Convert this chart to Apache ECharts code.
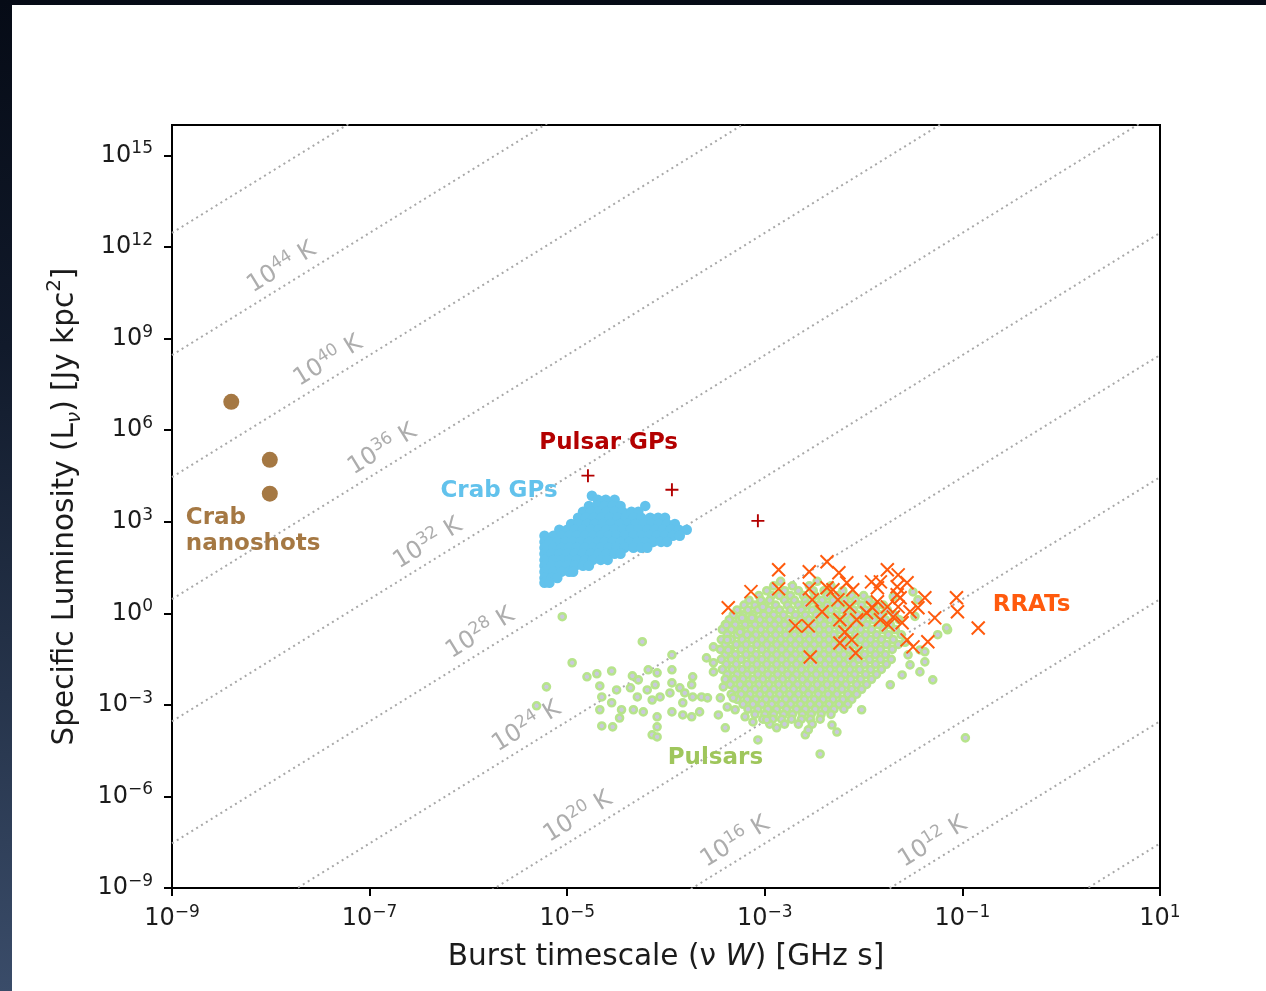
<!DOCTYPE html>
<html>
<head>
<meta charset="utf-8">
<title>Burst timescale vs specific luminosity</title>
<script src="https://cdn.jsdelivr.net/npm/echarts@6.0.0/dist/echarts.min.js"></script>
<style>
  html, body { margin: 0; padding: 0; width: 1266px; height: 991px; overflow: hidden;
    background: linear-gradient(180deg, #060b16 0%, #111a2b 35%, #26344b 70%, #3a4c69 100%); }
  #sheet { position: absolute; left: 12px; top: 5px; width: 1254px; height: 986px; background: #fff; }
  #chart { width: 1254px; height: 986px; }
</style>
</head>
<body>
<div id="sheet"><div id="chart"></div></div>
<script>
// All values are log10: W = burst timescale (nu W) in GHz s, L = specific luminosity in Jy kpc^2.

// Tick positions (decades)
const xTickExp = [-9, -7, -5, -3, -1, 1];
const yTickExp = [-9, -6, -3, 0, 3, 6, 9, 12, 15];

// Brightness-temperature guide lines (log10 T in K)
const tempLineExp = [8, 12, 16, 20, 24, 28, 32, 36, 40, 44, 48];
const tempLabelExp = [44, 40, 36, 32, 28, 24, 20, 16, 12];

// Crab nanoshots
const nanoLogW = [-8.40, -8.01, -8.01];
const nanoLogL = [6.93, 5.03, 3.92];

// Pulsar giant pulses
const gpLogW = [-4.79, -3.94, -3.07];
const gpLogL = [4.51, 4.05, 3.03];

// RRATs
const rratLogW = [-3.37, -3.14, -2.86, -2.86, -2.55, -2.55, -2.37, -2.52, -2.37, -2.25, -2.31, -2.17, -2.11, -2.14,
  -2.26, -2.42, -2.69, -2.56, -2.24, -2.07, -2.19, -2.24, -2.12, -2.08, -2.54, -1.76, -1.83, -1.65, -1.86, -1.66,
  -1.56, -1.66, -1.86, -1.91, -1.76, -1.65, -1.83, -1.70, -1.61, -1.53, -1.45, -1.38, -1.28, -1.06, -1.05, -0.84,
  -1.56, -1.50, -1.35, -1.97, -1.75, -1.63, -1.92];
const rratLogL = [0.18, 0.71, 1.43, 0.80, 1.36, 0.80, 1.69, 0.44, 0.84, 1.33, 0.77, 1.00, 0.77, 0.21,
  0.44, 0.05, -0.41, -0.41, -0.21, -0.21, -0.61, -0.97, -0.87, -1.30, -1.43, 1.43, 1.03, 1.26, 0.84, 0.87,
  1.00, 0.61, 0.38, 0.18, 0.21, 0.21, -0.21, -0.12, -0.31, 0.05, 0.18, 0.51, -0.15, 0.51, 0.05, -0.48,
  -0.87, -1.10, -0.93, 0.02, -0.38, 0.51, 1.03];

// Crab giant pulses, listed as [log L, [log W ...]] rows
const crabGpRows = [
  [3.85, [-4.75]],
  [3.72, [-4.69, -4.61, -4.52]],
  [3.52, [-4.78, -4.70, -4.62, -4.54, -4.46, -4.21]],
  [3.33, [-4.84, -4.76, -4.68, -4.60, -4.52, -4.44, -4.35, -4.28]],
  [3.13, [-4.89, -4.81, -4.73, -4.65, -4.57, -4.49, -4.41, -4.33, -4.25, -4.16, -4.08, -4.01]],
  [2.93, [-4.96, -4.88, -4.80, -4.72, -4.64, -4.56, -4.47, -4.39, -4.31, -4.23, -4.15, -4.07, -3.99, -3.91]],
  [2.74, [-5.08, -5.00, -4.92, -4.84, -4.76, -4.68, -4.60, -4.52, -4.44, -4.36, -4.28, -4.19, -4.11, -4.03, -3.95, -3.87, -3.79]],
  [2.54, [-5.23, -5.14, -5.06, -4.98, -4.90, -4.82, -4.74, -4.66, -4.58, -4.50, -4.42, -4.33, -4.25, -4.17, -4.09, -4.01, -3.93, -3.86]],
  [2.34, [-5.23, -5.18, -5.10, -5.02, -4.94, -4.86, -4.78, -4.70, -4.62, -4.54, -4.46, -4.37, -4.29, -4.21, -4.13, -4.05, -3.99]],
  [2.15, [-5.23, -5.14, -5.06, -4.98, -4.90, -4.82, -4.74, -4.66, -4.58, -4.50, -4.42, -4.33, -4.25, -4.19]],
  [1.95, [-5.23, -5.16, -5.08, -5.00, -4.92, -4.84, -4.76, -4.68, -4.60, -4.52, -4.46]],
  [1.75, [-5.23, -5.14, -5.06, -4.98, -4.90, -4.82, -4.74, -4.66, -4.59]],
  [1.56, [-5.23, -5.16, -5.08, -5.00, -4.92, -4.84, -4.78]],
  [1.36, [-5.23, -5.14, -5.06, -4.98, -4.94]],
  [1.16, [-5.23, -5.16, -5.10]],
  [1.00, [-5.23, -5.18]]
];

// Pulsars: the dense population as [log L, [log W ...]] rows ...
const pulsarCoreRows = [
  [1.05, [-2.84, -2.47]],
  [0.90, [-2.91, -2.72, -2.55, -2.33]],
  [0.74, [-2.98, -2.80, -2.66, -2.51, -2.40, -2.21]],
  [0.58, [-3.06, -2.93, -2.85, -2.74, -2.61, -2.49, -2.37, -2.26, -2.12, -2.00]],
  [0.43, [-3.16, -3.04, -2.95, -2.80, -2.70, -2.59, -2.53, -2.42, -2.31, -2.19, -2.08, -1.95]],
  [0.27, [-3.21, -3.10, -3.00, -2.89, -2.77, -2.66, -2.58, -2.46, -2.37, -2.26, -2.14, -2.02, -1.90, -1.80]],
  [0.11, [-3.28, -3.17, -3.07, -2.96, -2.85, -2.74, -2.63, -2.52, -2.43, -2.33, -2.21, -2.10, -1.98, -1.88, -1.76]],
  [-0.05, [-3.32, -3.22, -3.12, -3.01, -2.91, -2.81, -2.69, -2.59, -2.48, -2.39, -2.28, -2.17, -2.06, -1.94, -1.83, -1.69]],
  [-0.21, [-3.36, -3.26, -3.15, -3.05, -2.95, -2.86, -2.76, -2.64, -2.55, -2.44, -2.34, -2.23, -2.13, -2.01, -1.90, -1.78, -1.64]],
  [-0.37, [-3.40, -3.30, -3.20, -3.10, -3.00, -2.90, -2.80, -2.71, -2.60, -2.50, -2.40, -2.29, -2.18, -2.08, -1.97, -1.85, -1.73]],
  [-0.53, [-3.43, -3.34, -3.24, -3.14, -3.04, -2.94, -2.85, -2.75, -2.65, -2.55, -2.45, -2.35, -2.24, -2.13, -2.03, -1.92, -1.80, -1.68]],
  [-0.70, [-3.38, -3.28, -3.18, -3.09, -2.99, -2.89, -2.79, -2.70, -2.60, -2.50, -2.40, -2.30, -2.19, -2.08, -1.98, -1.87, -1.75, -1.62]],
  [-0.86, [-3.44, -3.34, -3.23, -3.13, -3.03, -2.94, -2.84, -2.74, -2.65, -2.55, -2.45, -2.35, -2.25, -2.14, -2.03, -1.93, -1.82, -1.70]],
  [-1.02, [-3.40, -3.29, -3.19, -3.08, -2.98, -2.88, -2.79, -2.69, -2.59, -2.50, -2.40, -2.30, -2.20, -2.09, -1.98, -1.88, -1.77, -1.65]],
  [-1.18, [-3.45, -3.35, -3.24, -3.14, -3.03, -2.93, -2.83, -2.74, -2.64, -2.54, -2.45, -2.35, -2.25, -2.15, -2.04, -1.93, -1.83, -1.71]],
  [-1.35, [-3.40, -3.30, -3.19, -3.09, -2.98, -2.88, -2.78, -2.69, -2.59, -2.49, -2.40, -2.30, -2.20, -2.10, -1.99, -1.88, -1.78]],
  [-1.51, [-3.44, -3.34, -3.24, -3.13, -3.03, -2.93, -2.83, -2.73, -2.64, -2.54, -2.44, -2.35, -2.25, -2.15, -2.05, -1.94, -1.83, -1.72]],
  [-1.67, [-3.39, -3.29, -3.18, -3.08, -2.98, -2.88, -2.78, -2.68, -2.59, -2.49, -2.39, -2.29, -2.20, -2.10, -1.99, -1.88, -1.77]],
  [-1.84, [-3.43, -3.33, -3.23, -3.13, -3.03, -2.93, -2.83, -2.73, -2.63, -2.53, -2.44, -2.34, -2.24, -2.14, -2.04, -1.93, -1.82]],
  [-2.00, [-3.38, -3.28, -3.18, -3.07, -2.97, -2.87, -2.77, -2.68, -2.58, -2.48, -2.38, -2.29, -2.19, -2.09, -1.98, -1.87]],
  [-2.16, [-3.40, -3.31, -3.22, -3.12, -3.02, -2.92, -2.82, -2.72, -2.62, -2.53, -2.43, -2.33, -2.23, -2.13, -2.03, -1.92]],
  [-2.33, [-3.35, -3.25, -3.16, -3.06, -2.96, -2.86, -2.76, -2.67, -2.57, -2.47, -2.37, -2.27, -2.18, -2.07, -1.97]],
  [-2.49, [-3.30, -3.20, -3.10, -3.00, -2.91, -2.81, -2.71, -2.61, -2.52, -2.42, -2.32, -2.22, -2.12, -2.02]],
  [-2.65, [-3.34, -3.24, -3.15, -3.05, -2.95, -2.85, -2.75, -2.66, -2.56, -2.46, -2.36, -2.27, -2.16, -2.07]],
  [-2.82, [-3.28, -3.18, -3.09, -2.99, -2.89, -2.79, -2.70, -2.60, -2.50, -2.41, -2.31, -2.21, -2.12]],
  [-2.98, [-3.22, -3.12, -3.03, -2.93, -2.83, -2.74, -2.64, -2.54, -2.45, -2.35, -2.25, -2.16]],
  [-3.14, [-3.17, -3.07, -2.97, -2.88, -2.78, -2.68, -2.59, -2.49, -2.39, -2.30, -2.20]],
  [-3.31, [-3.10, -3.00, -2.91, -2.81, -2.72, -2.62, -2.53, -2.43, -2.33]],
  [-3.47, [-3.02, -2.92, -2.83, -2.73, -2.63, -2.54, -2.44]],
  [-3.63, [-2.95, -2.80, -2.66, -2.52]]
];
// ... and the scattered ones around it
const pulsarLogW = [-5.05, -4.24, -4.95, -5.21, -5.31, -4.80, -4.70, -4.55, -4.67, -4.65, -4.67, -4.65, -4.54, -4.50,
  -4.55, -4.45, -4.47, -4.34, -4.28, -4.36, -4.29, -4.33, -4.23, -4.18, -4.09, -4.19, -4.11, -4.14, -4.06, -4.09,
  -4.09, -4.14, -4.09, -3.94, -3.94, -3.94, -3.96, -3.94, -3.86, -3.81, -3.73, -3.74, -3.83, -3.83, -3.74, -3.66,
  -3.73, -3.64, -3.58, -3.59, -3.52, -3.52, -3.52, -3.38, -3.37, -3.39, -3.25, -3.42, -3.45, -3.47, -3.40, -3.32,
  -3.38, -3.30, -3.20, -3.12, -2.98, -2.88, -3.07, -2.59, -2.56, -2.32, -2.27, -2.44, -2.02, -1.73, -1.61, -1.43,
  -1.38, -1.30, -1.15, -0.97, -1.43, -1.53, -1.55, -1.45, -1.16, -1.25, -1.38, -3.02, -3.23, -3.13, -1.48, -1.58,
  -1.50, -1.70];
const pulsarLogL = [-0.11, -0.93, -1.62, -2.41, -3.03, -2.08, -1.98, -1.89, -2.38, -2.74, -3.16, -3.69, -3.72, -2.51,
  -2.93, -3.16, -3.43, -2.05, -2.18, -2.44, -2.74, -3.16, -3.23, -1.85, -1.95, -2.51, -2.34, -2.84, -2.74, -3.39,
  -3.72, -3.98, -4.05, -1.36, -1.85, -2.28, -2.61, -3.23, -2.44, -2.61, -2.08, -2.34, -2.93, -3.33, -3.39, -3.23,
  -2.74, -2.74, -2.77, -1.46, -1.10, -1.62, -1.92, -0.87, -1.20, -0.38, -0.61, -2.41, -2.77, -3.33, -3.75, -2.77,
  -3.07, -3.16, -3.39, -3.56, -3.49, -3.75, -4.15, -3.98, -3.82, -3.66, -3.89, -4.61, -3.16, -2.34, -2.02, -1.92,
  -1.59, -2.18, -0.54, -4.08, -1.20, -1.69, -1.36, 0.44, -0.48, -0.70, -1.26, 0.21, -0.15, -0.15, -0.10, -0.95,
  0.70, 0.55];

// ---------------------------------------------------------------------------
const FONT = '"DejaVu Sans", "Liberation Sans", sans-serif';
const INK = '#1b1b1b';
const GRID = { left: 160, top: 120, width: 988, height: 763 };
const X_MIN = -9, X_MAX = 1, Y_MIN = -9, Y_MAX = 16;

// log10[(Jy kpc^2) / (2 k_B (GHz s)^2)] : T_B = L / (nu W)^2 times this factor
const LOG_TB_FACTOR = 17.5376;
const lineLogL = (logT, logW) => logT - LOG_TB_FACTOR + 2 * logW;

// where (in log W) each temperature label sits on its line
const tempLabelLogW = [-7.81, -7.34, -6.79, -6.33, -5.80, -5.33, -4.81, -3.22, -1.22];

// slope of the guide lines on screen, in degrees
const pxPerDecX = GRID.width / (X_MAX - X_MIN);
const pxPerDecY = GRID.height / (Y_MAX - Y_MIN);
const lineAngle = Math.atan(2 * pxPerDecY / pxPerDecX) * 180 / Math.PI;

const expText = n => (n < 0 ? '\u2212' + (-n) : String(n));
const powRich = (size, color) => ({
  b: { fontFamily: FONT, fontSize: size, lineHeight: Math.round(size * 1.25), color: color },
  s: { fontFamily: FONT, fontSize: Math.round(size * 0.7), lineHeight: Math.round(size * 0.7), verticalAlign: 'top', color: color }
});

const rowsToPoints = rows => {
  const pts = [];
  rows.forEach(([l, ws]) => ws.forEach(w => pts.push([w, l])));
  return pts;
};
const zipPoints = (ws, ls) => ws.map((w, i) => [w, ls[i]]);

const crabGpData = rowsToPoints(crabGpRows);
const pulsarData = rowsToPoints(pulsarCoreRows).concat(zipPoints(pulsarLogW, pulsarLogL));

const tempLineSeries = tempLineExp.map(t => ({
  type: 'line',
  silent: true,
  z: 1,
  symbol: 'none',
  clip: true,
  data: [[X_MIN, lineLogL(t, X_MIN)], [X_MAX, lineLogL(t, X_MAX)]],
  lineStyle: { color: '#a8a8a8', width: 2, type: [2, 3.7], cap: 'butt' }
}));

const tempLabelSeries = {
  type: 'scatter',
  silent: true,
  z: 2,
  symbolSize: 0,
  itemStyle: { color: 'transparent', opacity: 1 },
  data: tempLabelExp.map((t, i) => [tempLabelLogW[i], lineLogL(t, tempLabelLogW[i]), t]),
  label: {
    show: true,
    position: 'top',
    distance: 2,
    rotate: lineAngle,
    formatter: p => `{b|10}{s|${p.value[2]}}{b| K}`,
    rich: powRich(24, '#adadad')
  }
};

const notes = [
  { text: 'Pulsar GPs', color: '#b30000', at: [-4.58, 5.59], align: 'center' },
  { text: 'Crab GPs', color: '#62c2ec', at: [-5.69, 4.02], align: 'center' },
  { text: 'Crab\nnanoshots', color: '#a57843', at: [-8.86, 2.70], align: 'left' },
  { text: 'RRATs', color: '#ff5a0d', at: [-0.30, 0.28], align: 'center' },
  { text: 'Pulsars', color: '#9fc65c', at: [-3.50, -4.74], align: 'center' }
];

const chart = echarts.init(document.getElementById('chart'), null, { renderer: 'canvas' });

chart.setOption({
  animation: false,
  backgroundColor: '#ffffff',
  grid: Object.assign({ show: true, borderColor: '#000', borderWidth: 2, backgroundColor: 'transparent' }, GRID),
  xAxis: {
    type: 'value',
    min: X_MIN, max: X_MAX, interval: 2,
    axisLine: { show: true, onZero: false, lineStyle: { color: '#000', width: 2 } },
    axisTick: { show: true, length: 8, customValues: xTickExp, lineStyle: { color: '#000', width: 2 } },
    splitLine: { show: false },
    axisLabel: {
      customValues: xTickExp,
      margin: 16,
      formatter: v => `{b|10}{s|${expText(v)}}`,
      rich: powRich(24, INK)
    },
    name: 'Burst timescale (\u03bd {i|W}) [GHz s]',
    nameLocation: 'middle',
    nameGap: 54,
    nameTextStyle: {
      fontFamily: FONT, fontSize: 29.6, color: INK, verticalAlign: 'top',
      rich: { i: { fontFamily: FONT, fontSize: 29.6, fontStyle: 'italic', color: INK } }
    }
  },
  yAxis: {
    type: 'value',
    min: Y_MIN, max: Y_MAX, interval: 3,
    axisLine: { show: true, onZero: false, lineStyle: { color: '#000', width: 2 } },
    axisTick: { show: true, length: 8, customValues: yTickExp, lineStyle: { color: '#000', width: 2 } },
    splitLine: { show: false },
    axisLabel: {
      customValues: yTickExp,
      margin: 19,
      formatter: v => `{b|10}{s|${expText(v)}}`,
      rich: powRich(24, INK)
    },
    name: 'Specific Luminosity (L{sub|\u03bd}) [Jy kpc{sup|2}]',
    nameLocation: 'middle',
    nameGap: 87,
    nameTextStyle: {
      fontFamily: FONT, fontSize: 29.5, color: INK, lineHeight: 40,
      rich: {
        sub: { fontFamily: FONT, fontSize: 20, fontStyle: 'italic', color: INK, lineHeight: 22, verticalAlign: 'bottom' },
        sup: { fontFamily: FONT, fontSize: 20, color: INK, lineHeight: 24, verticalAlign: 'top' }
      }
    }
  },
  series: tempLineSeries.concat([
    tempLabelSeries,
    {
      name: 'Crab nanoshots',
      type: 'scatter', z: 3, silent: true,
      symbol: 'circle', symbolSize: 16,
      itemStyle: { color: '#a57843', opacity: 1 },
      data: zipPoints(nanoLogW, nanoLogL)
    },
    {
      name: 'Crab GPs',
      type: 'scatter', z: 3, silent: true,
      symbol: 'circle', symbolSize: 10.5,
      itemStyle: { color: '#62c2ec', opacity: 1 },
      data: crabGpData
    },
    {
      name: 'Pulsars',
      type: 'scatter', z: 3, silent: true,
      symbol: 'circle', symbolSize: 7,
      itemStyle: { color: '#c9c9dc', borderColor: '#b7e48c', borderWidth: 2.6, opacity: 1 },
      data: pulsarData
    },
    {
      name: 'RRATs',
      type: 'scatter', z: 4, silent: true,
      symbol: 'path://M0,0L10,10M10,0L0,10', symbolSize: 13,
      itemStyle: { color: 'transparent', borderColor: '#ff5a0d', borderWidth: 2, opacity: 1 },
      data: zipPoints(rratLogW, rratLogL)
    },
    {
      name: 'Pulsar GPs',
      type: 'scatter', z: 4, silent: true,
      symbol: 'path://M5,0L5,10M0,5L10,5', symbolSize: 13,
      itemStyle: { color: 'transparent', borderColor: '#b30000', borderWidth: 1.9, opacity: 1 },
      data: zipPoints(gpLogW, gpLogL)
    },
    {
      type: 'scatter', z: 5, silent: true,
      symbolSize: 0,
      itemStyle: { color: 'transparent', opacity: 1 },
      data: notes.map(n => ({
        value: n.at,
        label: { formatter: n.text, color: n.color, align: n.align }
      })),
      label: {
        show: true, position: 'inside',
        fontFamily: FONT, fontSize: 23, fontWeight: 'bold', lineHeight: 26
      }
    }
  ])
});
</script>
</body>
</html>
